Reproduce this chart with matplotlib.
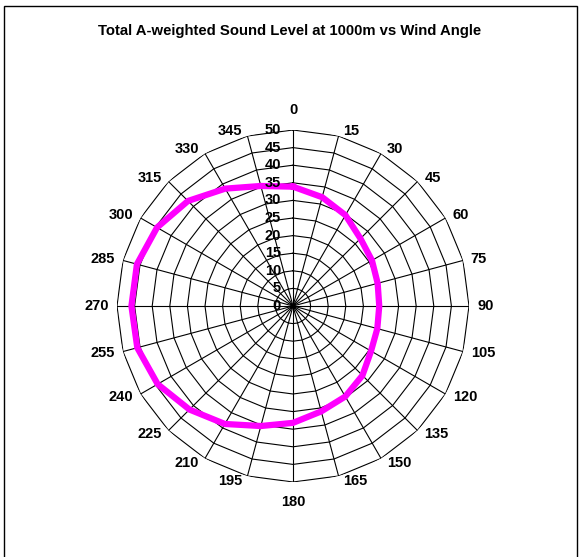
import numpy as np
import matplotlib
matplotlib.use("Agg")
import matplotlib.pyplot as plt
from matplotlib.patches import Rectangle

plt.rcParams['font.family'] = ['Liberation Sans', 'DejaVu Sans']

# wind angle (deg) and total A-weighted level (dB) at 1000 m
angles = [0, 15, 30, 45, 60, 75, 90, 105, 120, 135, 150, 165,
          180, 195, 210, 225, 240, 255, 270, 285, 300, 315, 330, 345]
level = [33.9, 32.0, 29.8, 27.1, 25.9, 24.9, 24.5, 24.8, 25.6, 27.9, 29.7, 31.0,
         33.2, 35.3, 38.7, 41.6, 44.4, 45.8, 45.9, 45.9, 44.6, 42.2, 38.5, 35.3]
rings = [0, 5, 10, 15, 20, 25, 30, 35, 40, 45, 50]

W, H = 580, 557
PT = 0.72  # points per pixel at 100 dpi
fig = plt.figure(figsize=(W / 100, H / 100), dpi=100)

# outer chart border
fig.add_artist(Rectangle((4 / W, -0.05), 573 / W, 1.05 - 6 / H, transform=fig.transFigure,
                         fill=False, edgecolor='black', linewidth=1.0))

fig.text(0.5, 1 - 31 / H, 'Total A-weighted Sound Level at 1000m vs Wind Angle',
         ha='center', va='center', fontsize=10.7, fontweight='bold')

cx, cy, R = 293, 306, 176
ax = fig.add_axes([(cx - R) / W, (H - cy - R) / H, 2 * R / W, 2 * R / H], projection='polar')
ax.set_theta_zero_location('N')
ax.set_theta_direction(-1)
ax.set_ylim(0, 50)
ax.grid(False)
ax.set_xticks([])
ax.set_yticks([])
ax.spines['polar'].set_visible(False)
ax.patch.set_alpha(0)

th = np.deg2rad(angles)
th_closed = np.append(th, th[0])

# polygon gridlines and spokes
for r in rings[1:]:
    ax.plot(th_closed, [r] * len(th_closed), color='black', linewidth=0.8, zorder=1)
for t in th:
    ax.plot([t, t], [0, rings[-1]], color='black', linewidth=0.8, zorder=1)

# data series
lv = np.append(level, level[0])
ax.plot(th_closed, lv, color='#FF00FF', linewidth=4.5, solid_joinstyle='miter', zorder=3)

# angle labels around the edge
for a, t in zip(angles, th):
    s, c = np.sin(t), np.cos(t)
    if abs(s) < 0.1:
        ha, dx, dy = 'center', 0, 19.5 * np.sign(c)
    else:
        ha = 'left' if s > 0 else 'right'
        dx = (4 + 4 * abs(s)) * np.sign(s)
        dy = 5.5 * c
    ax.annotate(str(a), xy=(t, rings[-1]), xytext=(dx * PT, dy * PT), textcoords='offset points',
                ha=ha, va='center', fontsize=10.5, fontweight='bold', annotation_clip=False)

# radial scale labels along the 0 spoke
for r in rings:
    ax.annotate(str(r), xy=(0, r), xytext=(-12 * PT, 0), textcoords='offset points',
                ha='right', va='center', fontsize=10.5, fontweight='bold', annotation_clip=False)

fig.savefig('out.png', dpi=100)
